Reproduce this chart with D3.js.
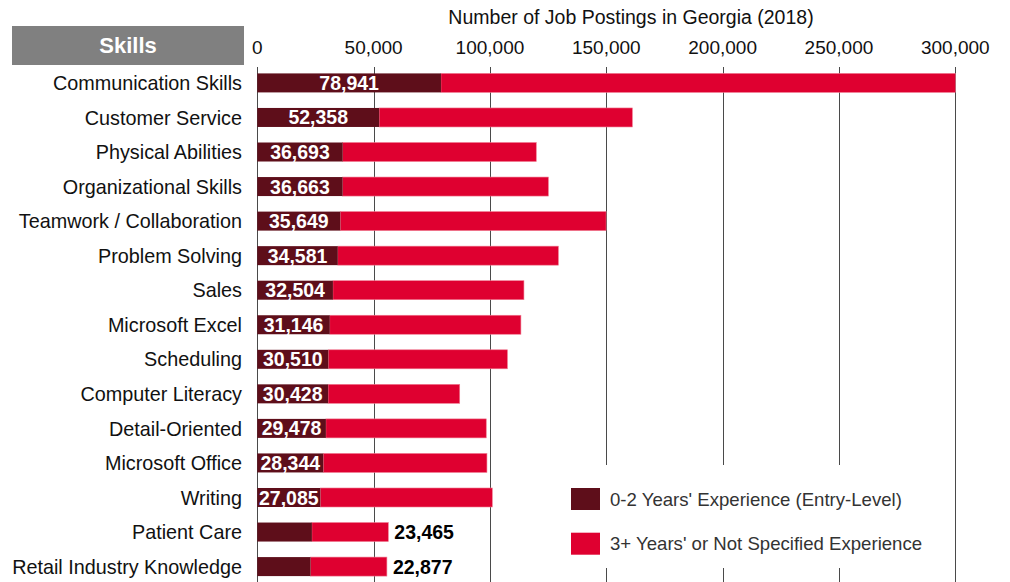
<!DOCTYPE html>
<html>
<head>
<meta charset="utf-8">
<script src="https://cdn.jsdelivr.net/npm/d3@7"></script>
<style>
  body { margin: 0; background: #fff; }
  svg { display: block; font-family: "Liberation Sans", Arial, Helvetica, sans-serif; }
</style>
</head>
<body>
<svg id="chart" width="1010" height="582"></svg>
<script>
// skills, top to bottom
const skills = [
  "Communication Skills", "Customer Service", "Physical Abilities",
  "Organizational Skills", "Teamwork / Collaboration", "Problem Solving",
  "Sales", "Microsoft Excel", "Scheduling", "Computer Literacy",
  "Detail-Oriented", "Microsoft Office", "Writing", "Patient Care",
  "Retail Industry Knowledge"
];
// entry-level postings (0-2 years)
const entryLevel = [78941, 52358, 36693, 36663, 35649, 34581, 32504, 31146,
  30510, 30428, 29478, 28344, 27085, 23465, 22877];
// total postings
const totalPostings = [300000, 161200, 119900, 125100, 149900, 129400, 114600,
  113300, 107500, 87000, 98400, 98700, 101000, 56300, 55700];
const tickValues = [0, 50000, 100000, 150000, 200000, 250000, 300000];
const legendLabels = ["0-2 Years' Experience (Entry-Level)", "3+ Years' or Not Specified Experience"];

const darkRed = "#5e0e1a", brightRed = "#df0030";
const fmt = d3.format(",");

const svg = d3.select("#chart");

const x = d3.scaleLinear().domain([0, 300000]).range([257.3, 955.3]);
const y = d3.scaleBand().domain(skills).range([66.5, 583]).paddingInner(0.45).paddingOuter(0.2);

const rows = skills.map((s, i) => ({ skill: s, entry: entryLevel[i], total: totalPostings[i] }));

// gridlines
svg.append("g")
  .selectAll("line")
  .data(tickValues)
  .join("line")
  .attr("x1", d => Math.round(x(d)) + 0.5)
  .attr("x2", d => Math.round(x(d)) + 0.5)
  .attr("y1", 67)
  .attr("y2", 582)
  .attr("stroke", "#4a4a4a")
  .attr("stroke-width", 1);

// legend background hides the grid
svg.append("rect")
  .attr("x", 555).attr("y", 465)
  .attr("width", 390).attr("height", 103)
  .attr("fill", "#fff");

// tick labels
svg.append("g")
  .selectAll("text")
  .data(tickValues)
  .join("text")
  .attr("x", d => x(d))
  .attr("y", 54)
  .attr("text-anchor", "middle")
  .attr("font-size", 19)
  .attr("fill", "#111")
  .text(d => fmt(d));

svg.append("text")
  .attr("x", 631)
  .attr("y", 24)
  .attr("text-anchor", "middle")
  .attr("font-size", 19.5)
  .attr("fill", "#111")
  .text("Number of Job Postings in Georgia (2018)");

// header box
svg.append("rect")
  .attr("x", 12).attr("y", 26)
  .attr("width", 232).attr("height", 39)
  .attr("fill", "#808080");
svg.append("text")
  .attr("x", 128).attr("y", 53)
  .attr("text-anchor", "middle")
  .attr("font-size", 22)
  .attr("font-weight", "bold")
  .attr("fill", "#fff")
  .text("Skills");

// category labels
svg.append("g")
  .selectAll("text")
  .data(rows)
  .join("text")
  .attr("x", 242)
  .attr("y", d => y(d.skill) + y.bandwidth() / 2)
  .attr("dy", "0.36em")
  .attr("text-anchor", "end")
  .attr("font-size", 19.8)
  .attr("fill", "#111")
  .text(d => d.skill);

const bars = svg.append("g");

// full bar (3+ years / unspecified)
bars.selectAll("rect.rest")
  .data(rows)
  .join("rect")
  .attr("class", "rest")
  .attr("x", d => x(d.entry))
  .attr("y", d => y(d.skill))
  .attr("width", d => x(d.total) - x(d.entry))
  .attr("height", y.bandwidth())
  .attr("fill", brightRed)
  .attr("stroke", "#f07a90")
  .attr("stroke-width", 0.6);

// entry-level segment
bars.selectAll("rect.entry")
  .data(rows)
  .join("rect")
  .attr("class", "entry")
  .attr("x", x(0))
  .attr("y", d => y(d.skill))
  .attr("width", d => x(d.entry) - x(0))
  .attr("height", y.bandwidth())
  .attr("fill", darkRed);

// value labels: inside if it fits, otherwise after the bar
svg.append("g")
  .selectAll("text")
  .data(rows)
  .join("text")
  .attr("x", d => d.entry > 25000 ? (x(0) + x(d.entry)) / 2 : x(d.total) + 6)
  .attr("y", d => y(d.skill) + y.bandwidth() / 2)
  .attr("dy", "0.36em")
  .attr("text-anchor", d => d.entry > 25000 ? "middle" : "start")
  .attr("font-size", 19.5)
  .attr("font-weight", "bold")
  .attr("fill", d => d.entry > 25000 ? "#fff" : "#000")
  .text(d => fmt(d.entry));

// legend
const legend = svg.append("g")
  .selectAll("g")
  .data(legendLabels)
  .join("g")
  .attr("transform", (d, i) => `translate(571,${488 + i * 44.7})`);
legend.append("rect")
  .attr("width", 29).attr("height", 22)
  .attr("fill", (d, i) => i === 0 ? darkRed : brightRed);
legend.append("text")
  .attr("x", 39).attr("y", 11)
  .attr("dy", "0.36em")
  .attr("font-size", 18.6)
  .attr("fill", "#333")
  .text(d => d);
</script>
</body>
</html>
